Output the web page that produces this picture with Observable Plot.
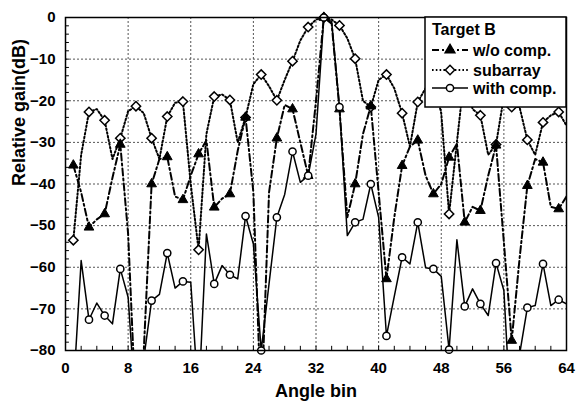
<!DOCTYPE html>
<html><head><meta charset="utf-8">
<script src="https://cdn.jsdelivr.net/npm/d3@7"></script>
<script src="https://cdn.jsdelivr.net/npm/@observablehq/plot@0.6"></script>
<style>body{margin:0;background:#fff} #chart{width:578px;height:402px}</style>
</head><body><div id="chart"></div>
<script>
const bins = [1,2,3,4,5,6,7,8,9,10,11,12,13,14,15,16,17,18,19,20,21,22,23,24,25,26,27,28,29,30,31,32,
  33,34,35,36,37,38,39,40,41,42,43,44,45,46,47,48,49,50,51,52,53,54,55,56,57,58,59,60,61,62,63,64];
const woComp = [-35.5,-42,-50.4,-48.5,-47.2,-38.5,-30.5,-52,-95,-80,-40,-34,-33.5,-43,-43.8,-38,
  -32.8,-29.5,-45.6,-43.5,-42.4,-32,-24,-42,-95,-42,-29,-21,-22,-30,-38,-20,
  0,-1.5,-22,-48,-40,-28,-21.3,-42,-62.8,-48,-35.6,-31,-29.5,-38,-42.4,-40,
  -33.6,-30.3,-49.2,-45.5,-46.4,-38,-30.7,-54,-77.6,-58,-40.4,-34,-34.8,-45.5,-46,-43];
const subarray = [-53.5,-33,-22.7,-22,-24.7,-34,-29,-22.5,-21.3,-23,-29,-34,-23.8,-20.5,-20.2,-40,
  -55.8,-28,-19,-18.5,-19.8,-30,-24,-16,-13.7,-16.5,-19.9,-15,-10.5,-5.5,-2.3,-0.5,
  0,-0.5,-1.9,-5,-9.9,-20,-21.5,-15,-13.7,-17,-23,-31,-20.3,-17,-15,-23,
  -47.2,-30,-13,-22,-23.5,-33,-30.5,-19,-21.5,-21.5,-29.4,-33,-25.2,-23.5,-22.7,-26];
const withComp = [-90,-58.4,-72.6,-68.6,-71.6,-73.6,-60.4,-67.2,-95,-82,-68,-66.5,-56.6,-65,-63.4,-63.6,
  -92,-52,-64,-59.6,-61.8,-62.8,-47.7,-54.4,-80,-64,-48,-42.5,-32.2,-39.6,-38,-28,
  0,-1,-21.5,-52.4,-49.2,-48.5,-40,-48,-76.5,-67,-57.6,-59.2,-49.2,-60.1,-60.4,-62.2,
  -79.8,-53.4,-69.4,-65.2,-68.8,-71.6,-59,-65.6,-100,-81,-69.7,-69.2,-59.2,-69.2,-67.8,-68.8];
const xTicks = [0,8,16,24,32,40,48,56,64];
const yTicks = [0,-10,-20,-30,-40,-50,-60,-70,-80];
const xMinor = [2,4,6,8,10,12,14,16,18,20,22,24,26,28,30,32,34,36,38,40,42,44,46,48,50,52,54,56,58,60,62];
const yMinor = [-78,-76,-74,-72,-70,-68,-66,-64,-62,-60,-58,-56,-54,-52,-50,-48,-46,-44,-42,-40,-38,-36,-34,-32,-30,-28,-26,-24,-22,-20,-18,-16,-14,-12,-10,-8,-6,-4,-2];
const seriesNames = ["w/o comp.", "subarray", "with comp."];
const legendTitle = "Target B";
const xTitle = "Angle bin";
const yTitle = "Relative gain(dB)";

const font = "'Liberation Sans', Arial, Helvetica, sans-serif";
const toRows = vals => bins.map((b, i) => ({bin: b, v: vals[i]}));
const wo = toRows(woComp), sub = toRows(subarray), wc = toRows(withComp);
const isMarker = d => d.bin % 2 === 1 && d.v >= -80;

const dashWo = "7,3,2,3", dashSub = "1.6,2.2";

const plot = Plot.plot({
  width: 578, height: 402,
  marginLeft: 65, marginRight: 12, marginTop: 17, marginBottom: 52,
  x: {domain: [0, 64]},
  y: {domain: [-80, 0]},
  style: {fontFamily: font, background: "white", color: "black"},
  marks: [
    Plot.gridX(xTicks.slice(1, -1), {stroke: "#555", strokeOpacity: 1, strokeDasharray: "2,2", strokeWidth: 1}),
    Plot.gridY(yTicks.slice(1, -1), {stroke: "#555", strokeOpacity: 1, strokeDasharray: "2,2", strokeWidth: 1}),
    Plot.ruleY(yMinor, {y: d => d, x1: 0, x2: 0.5, stroke: "black", strokeWidth: 1}),
    Plot.ruleX(xMinor, {x: d => d, y1: -80, y2: -79, stroke: "black", strokeWidth: 1}),
    Plot.line(sub, {x: "bin", y: "v", stroke: "black", strokeWidth: 2, strokeDasharray: dashSub, clip: true}),
    Plot.line(wo, {x: "bin", y: "v", stroke: "black", strokeWidth: 2, strokeDasharray: dashWo, clip: true}),
    Plot.line(wc, {x: "bin", y: "v", stroke: "black", strokeWidth: 1.5, clip: true}),
    Plot.dot(sub.filter(isMarker), {x: "bin", y: "v", symbol: "diamond2", r: 4.2, fill: "white", stroke: "black", strokeWidth: 1.5}),
    Plot.dot(wo.filter(isMarker), {x: "bin", y: "v", symbol: "triangle", r: 3.6, fill: "black", stroke: "black", strokeWidth: 1}),
    Plot.dot(wc.filter(isMarker), {x: "bin", y: "v", symbol: "circle", r: 3.6, fill: "white", stroke: "black", strokeWidth: 1.5}),
    Plot.frame({stroke: "black", strokeWidth: 1.5}),
    Plot.axisX(xTicks, {tickSize: 0, tickPadding: 12, fontSize: 15, fontWeight: "bold", label: null}),
    Plot.axisY(yTicks, {tickSize: 0, tickPadding: 10, fontSize: 15, fontWeight: "bold", label: null}),
    Plot.text([xTitle], {frameAnchor: "bottom", dy: 41, fontSize: 18, fontWeight: "bold", lineAnchor: "middle"}),
    Plot.text([yTitle], {frameAnchor: "left", dx: -46, dy: 2, rotate: -90, fontSize: 18, fontWeight: "bold", lineAnchor: "middle"})
  ]
});

// Legend (inside the plot, top right)
const svg = d3.select(plot);
const g = svg.append("g").attr("font-family", font).attr("font-weight", "bold").attr("font-size", 16)
  .attr("fill", "black").attr("text-anchor", "start");
g.append("rect").attr("x", 425).attr("y", 17).attr("width", 141).attr("height", 90)
  .attr("fill", "white").attr("stroke", "black").attr("stroke-width", 1.5);
g.append("text").attr("x", 432).attr("y", 35).attr("text-anchor", "start").text(legendTitle);
const entries = [
  {name: seriesNames[0], dash: dashWo, w: 2, sym: d3.symbolTriangle, r: 3.6, fill: "black"},
  {name: seriesNames[1], dash: dashSub, w: 2, sym: d3.symbolDiamond2, r: 4.2, fill: "white"},
  {name: seriesNames[2], dash: null, w: 1.5, sym: d3.symbolCircle, r: 3.6, fill: "white"}
];
const rowsY = [50, 70, 88];
entries.forEach((e, i) => {
  const cy = rowsY[i];
  const ln = g.append("line").attr("x1", 432).attr("x2", 468).attr("y1", cy).attr("y2", cy)
    .attr("stroke", "black").attr("stroke-width", e.w);
  if (e.dash) ln.attr("stroke-dasharray", e.dash);
  g.append("path").attr("transform", `translate(450,${cy})`)
    .attr("d", d3.symbol(e.sym, Math.PI * e.r * e.r)())
    .attr("fill", e.fill).attr("stroke", "black").attr("stroke-width", 1.5);
  g.append("text").attr("x", 473).attr("y", cy + 5.5).attr("text-anchor", "start").text(e.name);
});

document.getElementById("chart").appendChild(plot);
</script>
</body></html>
